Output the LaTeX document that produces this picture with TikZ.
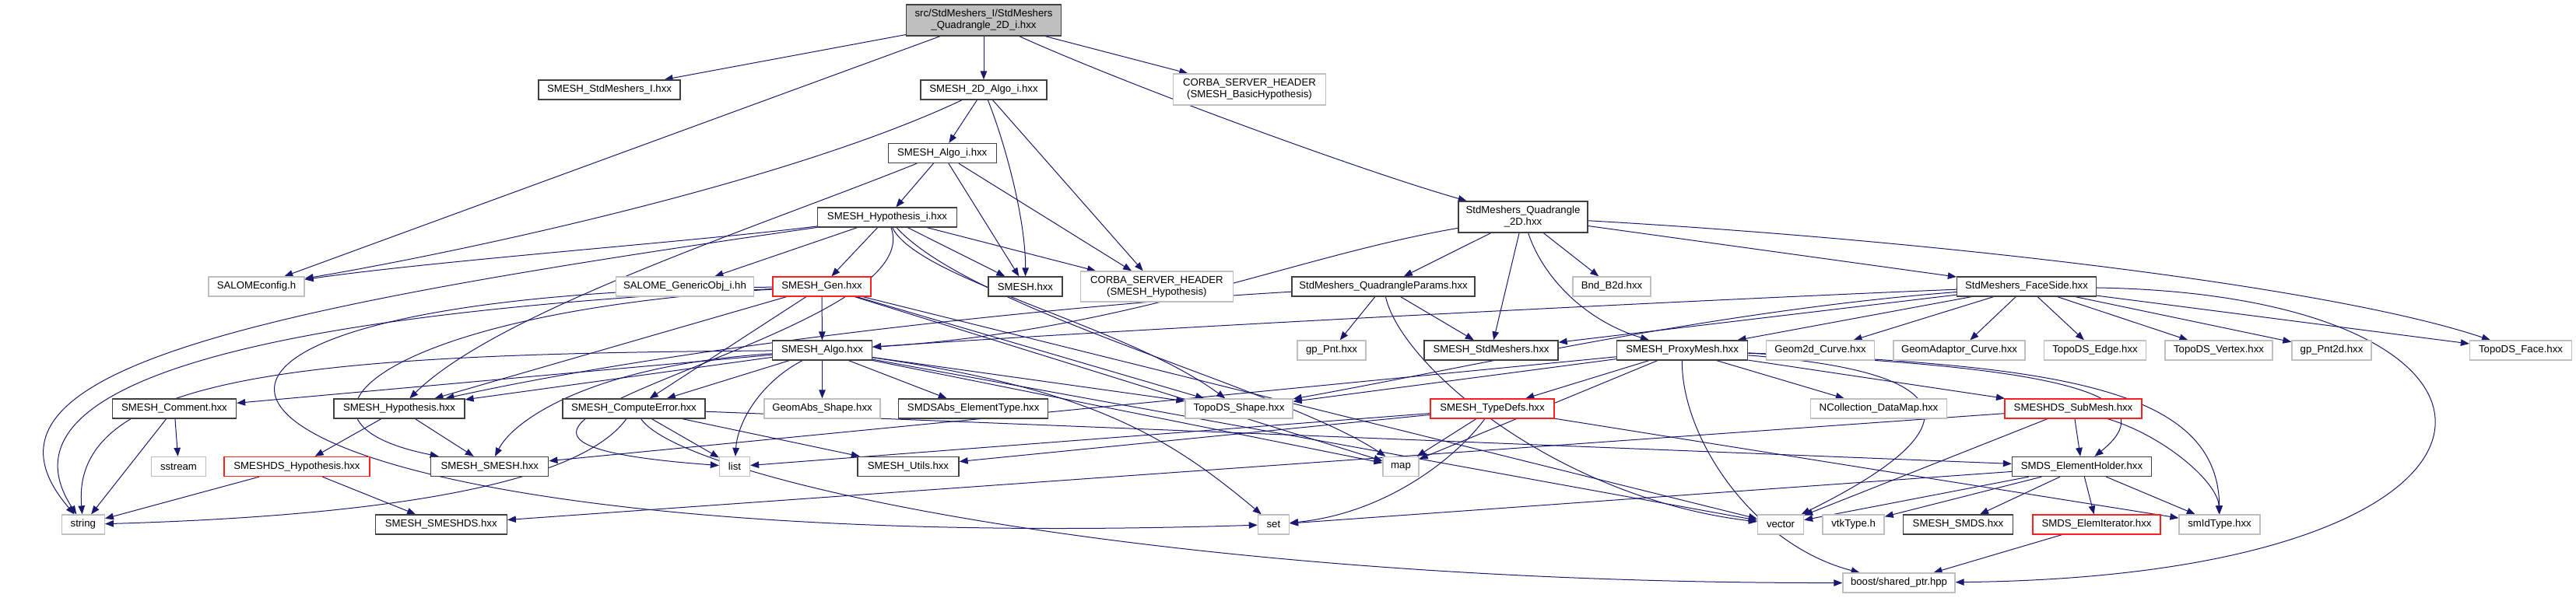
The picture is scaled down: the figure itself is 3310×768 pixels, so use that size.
\documentclass[tikz,border=0pt]{standalone}
\usepackage{fontspec}
\setmainfont{Liberation Sans}
\usetikzlibrary{arrows.meta,backgrounds}
\definecolor{edgec}{HTML}{191970}
\definecolor{boxc}{HTML}{404040}
\definecolor{extc}{HTML}{BFBFBF}
\definecolor{redc}{HTML}{FF2020}
\definecolor{rootfill}{HTML}{BFBFBF}
\newcommand\nodefont{\fontsize{13.2}{15}\selectfont}
\tikzset{
  hdr/.style={draw=boxc, line width=1.3pt, fill=white, inner sep=0pt, minimum height=25pt, font=\nodefont, align=center, text=black},
  exthdr/.style={hdr, draw=extc},
  redhdr/.style={hdr, draw=redc},
  dep/.style={draw=edgec, line width=1pt, -{Triangle[length=11pt,width=8.5pt]}},
}
\begin{document}
\begin{tikzpicture}[x=1pt,y=-1pt]
\useasboundingbox (0,0) rectangle (3310,768);
% row 0
\node[hdr, fill=rootfill, minimum width=199pt, minimum height=40pt] (R) at (1264,26) {src/StdMeshers\_I/StdMeshers\\\_Quadrangle\_2D\_i.hxx};
% row 1
\node[hdr, minimum width=182pt] (StdI) at (783,115.5) {SMESH\_StdMeshers\_I.hxx};
\node[hdr, minimum width=162pt] (A2DI) at (1264,115.5) {SMESH\_2D\_Algo\_i.hxx};
\node[exthdr, minimum width=196pt, minimum height=40pt] (CorbaB) at (1605.5,115) {CORBA\_SERVER\_HEADER\\(SMESH\_BasicHypothesis)};
% row 2
\node[hdr, minimum width=139pt] (AlgoI) at (1210.7,197) {SMESH\_Algo\_i.hxx};
% row 3
\node[hdr, minimum width=179pt] (HypI) at (1140,279.5) {SMESH\_Hypothesis\_i.hxx};
\node[hdr, minimum width=166pt, minimum height=40pt] (Q2D) at (1957,279) {StdMeshers\_Quadrangle\\\_2D.hxx};
% row 4
\node[exthdr, minimum width=123pt] (SALc) at (329.5,368.5) {SALOMEconfig.h};
\node[exthdr, minimum width=177pt] (GenObj) at (880,368.5) {SALOME\_GenericObj\_i.hh};
\node[redhdr, minimum width=126pt] (Gen) at (1056,368.5) {SMESH\_Gen.hxx};
\node[hdr, minimum width=95pt] (SMh) at (1317.5,368.5) {SMESH.hxx};
\node[exthdr, minimum width=196pt, minimum height=39pt] (CorbaH) at (1486.4,368.5) {CORBA\_SERVER\_HEADER\\(SMESH\_Hypothesis)};
\node[hdr, minimum width=235pt] (QParams) at (1777.5,368.5) {StdMeshers\_QuadrangleParams.hxx};
\node[exthdr, minimum width=100pt] (Bnd) at (2071,368.5) {Bnd\_B2d.hxx};
\node[hdr, minimum width=179pt] (FaceSide) at (2604,368.5) {StdMeshers\_FaceSide.hxx};
% row 5
\node[hdr, minimum width=128pt] (Algo) at (1056.5,450.5) {SMESH\_Algo.hxx};
\node[exthdr, minimum width=88pt] (gpPnt) at (1711,450.5) {gp\_Pnt.hxx};
\node[hdr, minimum width=172pt] (StdM) at (1916,450.5) {SMESH\_StdMeshers.hxx};
\node[hdr, minimum width=168pt] (Proxy) at (2161.6,450.5) {SMESH\_ProxyMesh.hxx};
\node[exthdr, minimum width=139pt] (Geom2d) at (2339,450.5) {Geom2d\_Curve.hxx};
\node[exthdr, minimum width=169pt] (GeomAd) at (2517.5,450.5) {GeomAdaptor\_Curve.hxx};
\node[exthdr, minimum width=131pt] (TopoEdge) at (2692,450.5) {TopoDS\_Edge.hxx};
\node[exthdr, minimum width=138pt] (TopoVertex) at (2851,450.5) {TopoDS\_Vertex.hxx};
\node[exthdr, minimum width=102pt] (gpPnt2d) at (2996,450.5) {gp\_Pnt2d.hxx};
\node[exthdr, minimum width=131pt] (TopoFace) at (3239,450.5) {TopoDS\_Face.hxx};
% row 6
\node[hdr, minimum width=159pt] (Comment) at (224,525.5) {SMESH\_Comment.hxx};
\node[hdr, minimum width=168pt] (Hyp) at (513,525.5) {SMESH\_Hypothesis.hxx};
\node[hdr, minimum width=183pt] (CompErr) at (814.5,525.5) {SMESH\_ComputeError.hxx};
\node[exthdr, minimum width=149pt] (GeomAbs) at (1056.5,525.5) {GeomAbs\_Shape.hxx};
\node[hdr, minimum width=192pt] (SMDSAbs) at (1250.7,525.5) {SMDSAbs\_ElementType.hxx};
\node[exthdr, minimum width=138pt] (TopoShape) at (1592,525.5) {TopoDS\_Shape.hxx};
\node[redhdr, minimum width=159pt] (TypeDefs) at (1917.5,525.5) {SMESH\_TypeDefs.hxx};
\node[exthdr, minimum width=175pt] (NColl) at (2414,525.5) {NCollection\_DataMap.hxx};
\node[redhdr, minimum width=176pt] (SubMesh) at (2664,525.5) {SMESHDS\_SubMesh.hxx};
% row 7
\node[exthdr, minimum width=70pt] (sstream) at (229.5,600) {sstream};
\node[redhdr, minimum width=187pt] (DSHyp) at (381.5,600) {SMESHDS\_Hypothesis.hxx};
\node[hdr, minimum width=151pt] (SMsmesh) at (629.3,600) {SMESH\_SMESH.hxx};
\node[exthdr, minimum width=39pt] (list) at (944,600) {list};
\node[hdr, minimum width=130pt] (Utils) at (1167,600) {SMESH\_Utils.hxx};
\node[exthdr, minimum width=46pt] (map) at (1800,600) {map};
\node[hdr, minimum width=179pt] (Holder) at (2675,600) {SMDS\_ElementHolder.hxx};
% row 8
\node[exthdr, minimum width=55pt] (string) at (106.8,674.5) {string};
\node[hdr, minimum width=169pt] (SMESHDS) at (566.8,674.5) {SMESH\_SMESHDS.hxx};
\node[exthdr, minimum width=40pt] (set) at (1636.4,674.5) {set};
\node[exthdr, minimum width=59pt] (vector) at (2288,674.5) {vector};
\node[exthdr, minimum width=79pt] (vtk) at (2381.6,674.5) {vtkType.h};
\node[hdr, minimum width=141pt] (SMDS) at (2516,674.5) {SMESH\_SMDS.hxx};
\node[redhdr, minimum width=164pt] (Iter) at (2694,674.5) {SMDS\_ElemIterator.hxx};
\node[exthdr, minimum width=104pt] (smId) at (2852,674.5) {smIdType.hxx};
% row 9
\node[exthdr, minimum width=144pt] (boost) at (2440,749.5) {boost/shared\_ptr.hpp};

\begin{pgfonlayer}{background}
% root
\draw[dep] (R) -- (StdI);
\draw[dep] (R) -- (SALc);
\draw[dep] (R) -- (A2DI);
\draw[dep] (R) -- (CorbaB);
\draw[dep] (R) .. controls (1450,110) and (1750,220) .. (Q2D);
% SMESH_2D_Algo_i
\draw[dep] (A2DI) .. controls (1000,240) and (560,330) .. (SALc);
\draw[dep] (A2DI) -- (AlgoI);
\draw[dep] (A2DI) .. controls (1290,180) and (1318,280) .. (SMh);
\draw[dep] (A2DI) -- (CorbaH);
% SMESH_Algo_i
\draw[dep] (AlgoI) .. controls (980,290) and (640,400) .. (Hyp);
\draw[dep] (AlgoI) -- (HypI);
\draw[dep] (AlgoI) -- (SMh);
\draw[dep] (AlgoI) -- (CorbaH);
% SMESH_Hypothesis_i
\draw[dep] (HypI) .. controls (900,310) and (560,335) .. (SALc);
\draw[dep] (HypI) .. controls (300,400) and (-60,480) .. (string);
\draw[dep] (HypI) -- (GenObj);
\draw[dep] (HypI) -- (Gen);
\draw[dep] (HypI) -- (SMh);
\draw[dep] (HypI) -- (CorbaH);
\draw[dep] (HypI) .. controls (1200,440) and (400,560) .. (list);
\draw[dep] (HypI) .. controls (1180,360) and (1450,420) .. (TopoShape);
\draw[dep] (HypI) .. controls (1250,400) and (1650,500) .. (map);
% SMESH_Gen
\draw[dep] (Gen) -- (Algo);
\draw[dep] (Gen) -- (CompErr);
\draw[dep] (Gen) .. controls (400,400) and (-20,480) .. (string);
\draw[dep] (Gen) .. controls (500,400) and (330,540) .. (SMsmesh);
\draw[dep] (Gen) .. controls (-50,380) and (200,720) .. (set);
\draw[dep] (Gen) -- (Hyp);
\draw[dep] (Gen) -- (TopoShape);
\draw[dep] (Gen) -- (map);
\draw[dep] (Gen) -- (vector);
% StdMeshers_Quadrangle_2D
\draw[dep] (Q2D) .. controls (1660,330) and (1450,425) .. (Algo);
\draw[dep] (Q2D) -- (QParams);
\draw[dep] (Q2D) -- (StdM);
\draw[dep] (Q2D) .. controls (1980,350) and (2030,410) .. (Proxy);
\draw[dep] (Q2D) -- (Bnd);
\draw[dep] (Q2D) -- (FaceSide);
\draw[dep] (Q2D) .. controls (2500,310) and (3000,370) .. (TopoFace);
% StdMeshers_QuadrangleParams
\draw[dep] (QParams) .. controls (1400,390) and (900,440) .. (Hyp);
\draw[dep] (QParams) -- (gpPnt);
\draw[dep] (QParams) -- (StdM);
\draw[dep] (QParams) .. controls (1800,470) and (2000,640) .. (vector);
% StdMeshers_FaceSide
\draw[dep] (FaceSide) -- (StdM);
\draw[dep] (FaceSide) -- (Proxy);
\draw[dep] (FaceSide) .. controls (2200,385) and (1500,420) .. (Algo);
\draw[dep] (FaceSide) -- (Geom2d);
\draw[dep] (FaceSide) -- (GeomAd);
\draw[dep] (FaceSide) -- (TopoEdge);
\draw[dep] (FaceSide) -- (TopoVertex);
\draw[dep] (FaceSide) -- (gpPnt2d);
\draw[dep] (FaceSide) -- (TopoFace);
\draw[dep] (FaceSide) .. controls (2200,400) and (1900,470) .. (TopoShape);
\draw[dep] (FaceSide) .. controls (3300,380) and (3300,740) .. (boost);
% SMESH_ProxyMesh
\draw[dep] (Proxy) -- (TypeDefs);
\draw[dep] (Proxy) -- (map);
\draw[dep] (Proxy) .. controls (2160,560) and (2250,700) .. (boost);
\draw[dep] (Proxy) .. controls (2550,480) and (2520,560) .. (vector);
\draw[dep] (Proxy) -- (NColl);
\draw[dep] (Proxy) -- (SubMesh);
\draw[dep] (Proxy) .. controls (2600,470) and (2800,500) .. (Holder);
\draw[dep] (Proxy) .. controls (2650,470) and (2850,500) .. (smId);
\draw[dep] (Proxy) -- (SMsmesh);
\draw[dep] (Proxy) -- (TopoShape);
% SMESH_Algo
\draw[dep] (Algo) -- (Comment);
\draw[dep] (Algo) -- (Hyp);
\draw[dep] (Algo) -- (CompErr);
\draw[dep] (Algo) .. controls (760,470) and (660,540) .. (SMsmesh);
\draw[dep] (Algo) -- (GeomAbs);
\draw[dep] (Algo) -- (SMDSAbs);
\draw[dep] (Algo) -- (TopoShape);
\draw[dep] (Algo) .. controls (980,490) and (948,540) .. (list);
\draw[dep] (Algo) -- (map);
\draw[dep] (Algo) .. controls (1400,500) and (1500,560) .. (set);
\draw[dep] (Algo) .. controls (400,455) and (90,480) .. (string);
\draw[dep] (Algo) -- (vector);
% hypothesis / comment
\draw[dep] (Hyp) -- (DSHyp);
\draw[dep] (Hyp) -- (SMsmesh);
\draw[dep] (DSHyp) -- (string);
\draw[dep] (DSHyp) -- (SMESHDS);
\draw[dep] (Comment) -- (string);
\draw[dep] (Comment) -- (sstream);
% SMESH_ComputeError
\draw[dep] (CompErr) -- (list);
\draw[dep] (CompErr) .. controls (760,600) and (600,660) .. (string);
\draw[dep] (CompErr) -- (Utils);
\draw[dep] (CompErr) .. controls (880,620) and (1500,750) .. (boost);
\draw[dep] (CompErr) -- (Holder);
% SMESH_TypeDefs
\draw[dep] (TypeDefs) -- (map);
\draw[dep] (TypeDefs) .. controls (1870,590) and (1780,660) .. (set);
\draw[dep] (TypeDefs) -- (list);
\draw[dep] (TypeDefs) -- (Utils);
\draw[dep] (TypeDefs) -- (smId);
% SMESHDS_SubMesh
\draw[dep] (SubMesh) -- (SMESHDS);
\draw[dep] (SubMesh) -- (Holder);
\draw[dep] (SubMesh) -- (vector);
\draw[dep] (SubMesh) .. controls (2780,560) and (2850,620) .. (smId);
% SMDS_ElementHolder
\draw[dep] (Holder) -- (set);
\draw[dep] (Holder) -- (vector);
\draw[dep] (Holder) -- (vtk);
\draw[dep] (Holder) -- (SMDS);
\draw[dep] (Holder) -- (Iter);
\draw[dep] (Holder) -- (smId);
\draw[dep] (Iter) -- (boost);
\end{pgfonlayer}
\end{tikzpicture}
\end{document}
